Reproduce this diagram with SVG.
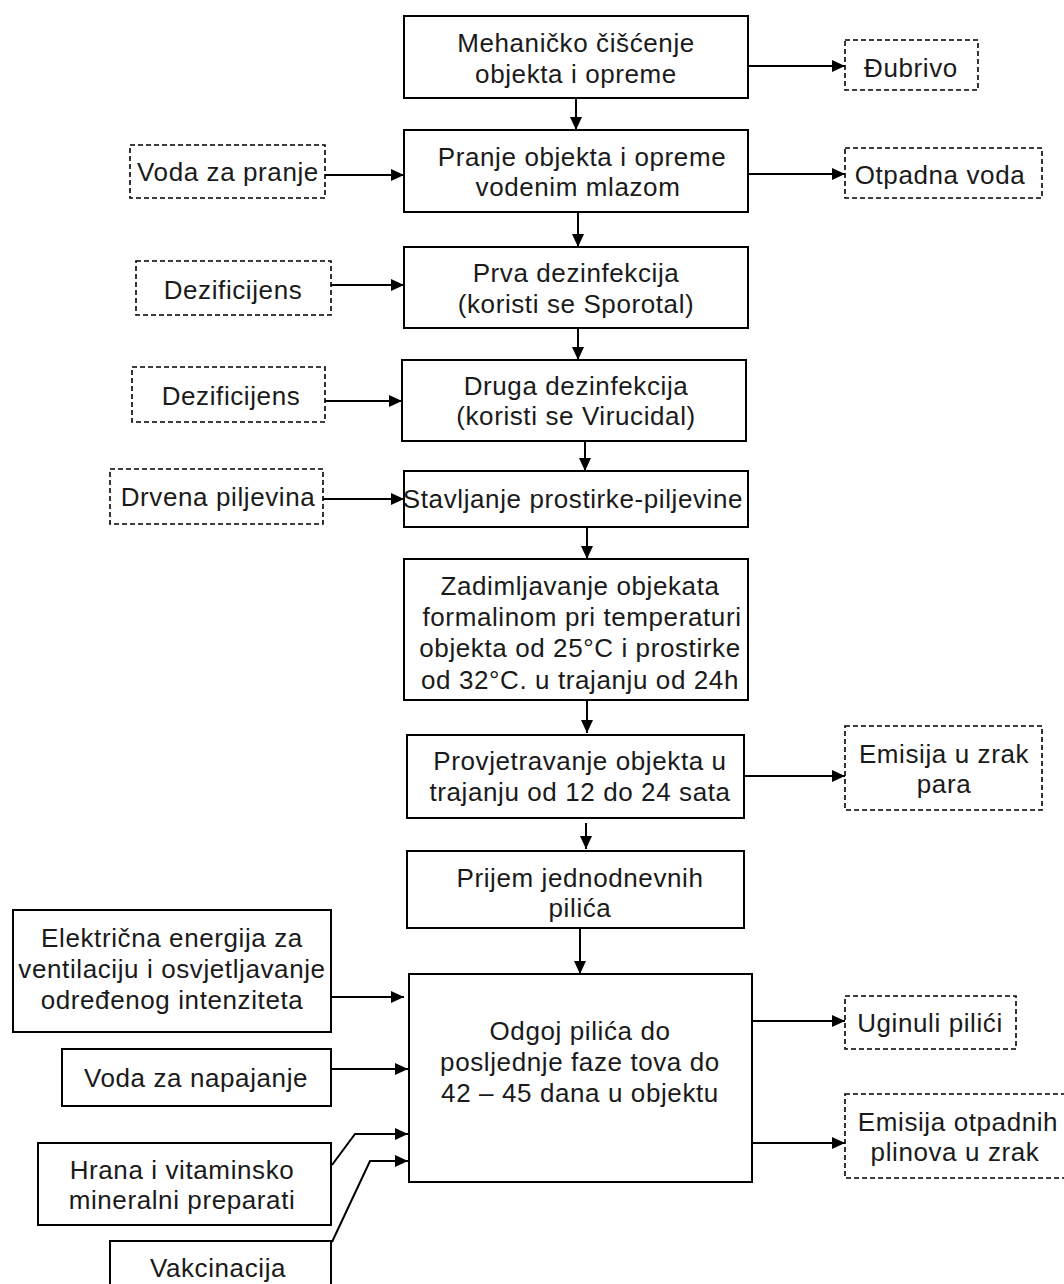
<svg xmlns="http://www.w3.org/2000/svg" width="1064" height="1284" viewBox="0 0 1064 1284">
<defs>
<marker id="ah" markerUnits="userSpaceOnUse" markerWidth="13" markerHeight="12" refX="13" refY="6" orient="auto">
<path d="M0,0 L13,6 L0,12 z" fill="#000"/>
</marker>
<style>
.box{fill:#fff;stroke:#000;stroke-width:2}
.dbox{fill:#fff;stroke:#000;stroke-width:1.6;stroke-dasharray:5 3}
.t{font-family:"Liberation Sans",Arial,sans-serif;font-size:26px;letter-spacing:0.6px;fill:#1a1a1a;text-anchor:middle}
.c{fill:none;stroke:#000;stroke-width:2}
</style>
</defs>
<rect width="1064" height="1284" fill="#fff"/>

<g id="connectors">
<line class="c" x1="748" y1="66" x2="845" y2="66" marker-end="url(#ah)"/>
<line class="c" x1="576" y1="98" x2="576" y2="130" marker-end="url(#ah)"/>
<line class="c" x1="325" y1="175" x2="404" y2="175" marker-end="url(#ah)"/>
<line class="c" x1="748" y1="174" x2="845" y2="174" marker-end="url(#ah)"/>
<line class="c" x1="578" y1="212" x2="578" y2="247" marker-end="url(#ah)"/>
<line class="c" x1="331" y1="285" x2="404" y2="285" marker-end="url(#ah)"/>
<line class="c" x1="578" y1="328" x2="578" y2="360" marker-end="url(#ah)"/>
<line class="c" x1="325" y1="401" x2="402" y2="401" marker-end="url(#ah)"/>
<line class="c" x1="585" y1="441" x2="585" y2="471" marker-end="url(#ah)"/>
<line class="c" x1="323" y1="499" x2="404" y2="499" marker-end="url(#ah)"/>
<line class="c" x1="587" y1="527" x2="587" y2="559" marker-end="url(#ah)"/>
<line class="c" x1="587" y1="697" x2="587" y2="733" marker-end="url(#ah)"/>
<line class="c" x1="744" y1="776" x2="845" y2="776" marker-end="url(#ah)"/>
<line class="c" x1="586" y1="823" x2="586" y2="849" marker-end="url(#ah)"/>
<line class="c" x1="580" y1="928" x2="580" y2="974" marker-end="url(#ah)"/>
<line class="c" x1="331" y1="997" x2="404" y2="997" marker-end="url(#ah)"/>
<line class="c" x1="331" y1="1069" x2="408" y2="1069" marker-end="url(#ah)"/>
<polyline class="c" points="332,1165 355,1134 408,1134" marker-end="url(#ah)"/>
<polyline class="c" points="332,1242 370,1161 408,1161" marker-end="url(#ah)"/>
<line class="c" x1="748" y1="1021" x2="845" y2="1021" marker-end="url(#ah)"/>
<line class="c" x1="748" y1="1143" x2="845" y2="1143" marker-end="url(#ah)"/>
</g>

<g id="n1"><rect class="box" x="404" y="16" width="344" height="82"/>
<text class="t" x="576" y="52">Mehaničko čišćenje</text><text class="t" x="576" y="83">objekta i opreme</text></g>
<g id="n2"><rect class="box" x="404" y="130" width="344" height="82"/>
<text class="t" x="582" y="166">Pranje objekta i opreme</text><text class="t" x="578" y="196">vodenim mlazom</text></g>
<g id="n3"><rect class="box" x="404" y="247" width="344" height="81"/>
<text class="t" x="576" y="282">Prva dezinfekcija</text><text class="t" x="576" y="313">(koristi se Sporotal)</text></g>
<g id="n4"><rect class="box" x="402" y="360" width="344" height="81"/>
<text class="t" x="576" y="395">Druga dezinfekcija</text><text class="t" x="576" y="425">(koristi se Virucidal)</text></g>
<g id="n5"><rect class="box" x="404" y="471" width="344" height="56"/>
<text class="t" x="573" y="508">Stavljanje prostirke-piljevine</text></g>
<g id="n6"><rect class="box" x="404" y="559" width="344" height="141"/>
<text class="t" x="580" y="595">Zadimljavanje objekata</text>
<text class="t" x="582" y="626">formalinom pri temperaturi</text>
<text class="t" x="580" y="657">objekta od 25°C i prostirke</text>
<text class="t" x="580" y="689">od 32°C. u trajanju od 24h</text></g>
<g id="n7"><rect class="box" x="407" y="735" width="337" height="83"/>
<text class="t" x="580" y="770">Provjetravanje objekta u</text><text class="t" x="580" y="801">trajanju od 12 do 24 sata</text></g>
<g id="n8"><rect class="box" x="407" y="851" width="337" height="77"/>
<text class="t" x="580" y="887">Prijem jednodnevnih</text><text class="t" x="580" y="917">pilića</text></g>
<g id="n9"><rect class="box" x="409" y="974" width="343" height="208"/>
<text class="t" x="580" y="1040">Odgoj pilića do</text>
<text class="t" x="580" y="1071">posljednje faze tova do</text>
<text class="t" x="580" y="1102">42 – 45 dana u objektu</text></g>

<g id="s1"><rect class="dbox" x="845" y="40" width="133" height="50"/>
<text class="t" x="911" y="77">Đubrivo</text></g>
<g id="s2"><rect class="dbox" x="130" y="145" width="195" height="53"/>
<text class="t" x="228" y="181">Voda za pranje</text></g>
<g id="s3"><rect class="dbox" x="845" y="148" width="197" height="50"/>
<text class="t" x="940" y="184">Otpadna voda</text></g>
<g id="s4"><rect class="dbox" x="136" y="261" width="195" height="54"/>
<text class="t" x="233" y="299">Dezificijens</text></g>
<g id="s5"><rect class="dbox" x="132" y="367" width="193" height="55"/>
<text class="t" x="231" y="405">Dezificijens</text></g>
<g id="s6"><rect class="dbox" x="110" y="469" width="213" height="55"/>
<text class="t" x="218" y="506">Drvena piljevina</text></g>
<g id="s7"><rect class="dbox" x="845" y="726" width="197" height="84"/>
<text class="t" x="944" y="763">Emisija u zrak</text><text class="t" x="944" y="793">para</text></g>
<g id="s8"><rect class="box" x="13" y="910" width="318" height="122"/>
<text class="t" x="172" y="947">Električna energija za</text>
<text class="t" x="172" y="978">ventilaciju i osvjetljavanje</text>
<text class="t" x="172" y="1009">određenog intenziteta</text></g>
<g id="s9"><rect class="box" x="62" y="1049" width="269" height="57"/>
<text class="t" x="196" y="1087">Voda za napajanje</text></g>
<g id="s10"><rect class="box" x="38" y="1143" width="293" height="82"/>
<text class="t" x="182" y="1179">Hrana  i vitaminsko</text>
<text class="t" x="182" y="1209">mineralni  preparati</text></g>
<g id="s11"><rect class="box" x="110" y="1241" width="221" height="60"/>
<text class="t" x="218" y="1277">Vakcinacija</text></g>
<g id="s12"><rect class="dbox" x="845" y="996" width="171" height="53"/>
<text class="t" x="930" y="1032">Uginuli pilići</text></g>
<g id="s13"><rect class="dbox" x="845" y="1094" width="225" height="84"/>
<text class="t" x="958" y="1131">Emisija otpadnih</text><text class="t" x="955" y="1161">plinova u zrak</text></g>
</svg>
